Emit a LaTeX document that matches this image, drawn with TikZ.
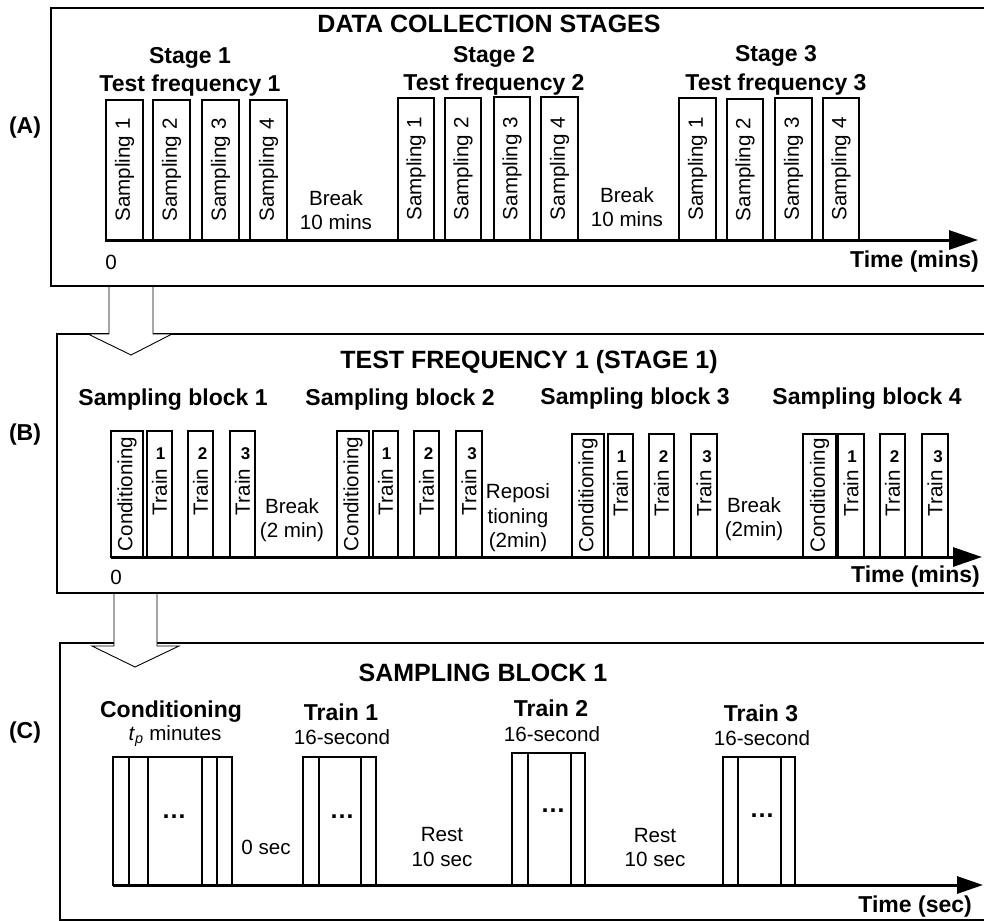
\documentclass[tikz,border=0pt]{standalone}
\usepackage{fontspec}
\setmainfont{Liberation Sans}
\usetikzlibrary{arrows.meta,calc}
\newcommand\fnorm{\fontsize{20.6}{24.5}\selectfont}
\newcommand\fbold{\fontsize{23}{27}\selectfont\bfseries}
\newcommand\ftitle{\fontsize{25}{30}\selectfont\bfseries}
\newcommand\fnum{\fontsize{17}{20}\selectfont\bfseries}
\newcommand\fdots{\fontsize{25}{28}\selectfont\bfseries}
\begin{document}
\begin{tikzpicture}[x=1pt,y=-1pt,
  frame/.style={draw, line width=2pt, inner sep=0pt, outer sep=0pt, anchor=north west},
  rbox/.style={draw, line width=2pt, rotate=90, inner sep=0pt, outer sep=0pt, font=\fnorm, fill=white},
  pbox/.style={draw, line width=2pt, inner sep=0pt, outer sep=0pt},
  inline/.style={line width=2pt},
  axis/.style={line width=3pt},
  blockarrow/.style={draw, fill=white, line width=0.9pt, line join=miter},
  txt/.style={font=\fnorm, align=center, inner sep=0pt},
  btxt/.style={font=\fbold, align=center, inner sep=0pt},
  ttl/.style={font=\ftitle, inner sep=0pt},
  num/.style={font=\fnum, inner sep=0pt},
  dotsx/.style={font=\fdots, inner sep=0pt}]
\useasboundingbox (0,0) rectangle (984,920);
\clip (0,0) rectangle (984,920);
\fill[white] (0,0) rectangle (984,920);

% frames
\node[frame, minimum width=940, minimum height=278] (fA) at (51,8) {};
\node[frame, minimum width=934, minimum height=259] (fB) at (57,334) {};
\node[frame, minimum width=931, minimum height=277] (fC) at (60,643) {};

% block arrows
\draw[blockarrow] (109,287) -- (109,334) -- (88,334) -- (131,355) -- (172,334) -- (153,334) -- (153,287);
\draw[blockarrow] (114,594) -- (114,646) -- (92,646) -- (135,667) -- (179,646) -- (157,646) -- (157,594);

% panel labels
\node[btxt] (labA) at (25,128) {(A)};
\node[btxt] (labB) at (25,435) {(B)};
\node[btxt] (labC) at (25,733) {(C)};

% ---------------- Panel A ----------------
\node[ttl] (titA) at (489,24) {DATA COLLECTION STAGES};
\node[btxt] (st1) at (190,58) {Stage 1};
\node[btxt] (tf1) at (190,86) {Test frequency 1};
\node[btxt] (st2) at (494,57) {Stage 2};
\node[btxt] (tf2) at (494,85) {Test frequency 2};
\node[btxt] (st3) at (776,56) {Stage 3};
\node[btxt] (tf3) at (776,85) {Test frequency 3};

\foreach \l/\r/\t/\n/\m in {106/143/100/1/s11,153/190/100/2/s12,202/239/100/3/s13,250/287/100/4/s14,
  398/434/98/1/s21,445/481/98/2/s22,494/530/97/3/s23,541/578/97/4/s24,
  679/716/98/1/s31,727/763/99/2/s32,775/812/98/3/s33,823/859/98/4/s34}
  \node[rbox, minimum width={240-\t}, minimum height={\r-\l}] (\m) at ({(\l+\r)/2},{(\t+240)/2}) {Sampling \n};

\node[txt] (brA1) at (336,210) {Break\\10 mins};
\node[txt] (brA2) at (627,207) {Break\\10 mins};
\coordinate (axA0) at (105,240);
\coordinate (axA1) at (978,240);
\draw[axis, -{Triangle[length=29pt,width=19pt]}] (axA0) -- (axA1);
\node[txt] (zeroA) at (111,262) {0};
\node[btxt, anchor=east] (timeA) at (979,262) {Time (mins)};

% ---------------- Panel B ----------------
\node[ttl] (titB) at (529,362) {TEST FREQUENCY 1 (STAGE 1)};
\node[btxt] (sb1) at (173,400) {Sampling block 1};
\node[btxt] (sb2) at (400,400) {Sampling block 2};
\node[btxt] (sb3) at (635,399) {Sampling block 3};
\node[btxt] (sb4) at (867,399) {Sampling block 4};

\foreach \l/\r/\t/\m in {111/143/431/c1,337/369/431/c2,572/604/434/c3,803/836/434/c4}
  \node[rbox, minimum width={557-\t}, minimum height={\r-\l}] (\m) at ({(\l+\r)/2},{(\t+557)/2}) {Conditioning};

\foreach \l/\r/\t/\n/\d/\m in {147/172/431/1/1/t11,188/213/431/2/2/t12,230/255/431/3/3/t13,
  373/398/431/1/1/t21,414/439/431/2/2/t22,456/482/431/3/3/t23,
  608/633/434/1/1/t31,649/674/434/2/2/t32,691/717/434/3/3/t33,
  838/864/434/1/1/t41,880/905/434/2/2/t42,922/948/434/3/3/t43}
{
  \node[rbox, minimum width={557-\t}, minimum height={\r-\l}] (\m) at ({(\l+\r)/2},{(\t+557)/2}) {\hspace*{4pt}Train};
  \node[num] (n\m) at ({(\l+\r)/2+\d},{\t+23}) {\n};
}

\node[txt] (brB1) at (292,520) {Break\\(2 min)};
\node[txt] (rep) at (518,518) {Reposi\\tioning\\(2min)};
\node[txt] (brB2) at (754,519) {Break\\(2min)};
\coordinate (axB0) at (111,557);
\coordinate (axB1) at (982,557);
\draw[axis, -{Triangle[length=29pt,width=19pt]}] (axB0) -- (axB1);
\node[txt] (zeroB) at (116,577) {0};
\node[btxt, anchor=east] (timeB) at (980,577) {Time (mins)};

% ---------------- Panel C ----------------
\node[ttl] (titC) at (483,673) {SAMPLING BLOCK 1};
\node[btxt] (condC) at (171,712) {Conditioning};
\node[txt] (tp) at (175,736) {\textit{t}\textsubscript{\textit{p}} minutes};
\node[btxt] (tr1) at (341,712) {Train 1};
\node[txt] (sec1) at (342,737) {16-second};
\node[btxt] (tr2) at (551,708) {Train 2};
\node[txt] (sec2) at (552,734) {16-second};
\node[btxt] (tr3) at (761,713) {Train 3};
\node[txt] (sec3) at (762,738) {16-second};

\node[pbox, minimum width=119, minimum height=128] (cb) at (172.5,821) {};
\foreach \o in {16,35,89,104}
  \draw[inline] ([xshift=\o pt]cb.north west) -- ([xshift=\o pt]cb.south west);
\node[pbox, minimum width=73, minimum height=128] (tb1) at (339.5,821) {};
\foreach \o in {16,58}
  \draw[inline] ([xshift=\o pt]tb1.north west) -- ([xshift=\o pt]tb1.south west);
\node[pbox, minimum width=73, minimum height=132] (tb2) at (548.5,819) {};
\foreach \o in {16,59}
  \draw[inline] ([xshift=\o pt]tb2.north west) -- ([xshift=\o pt]tb2.south west);
\node[pbox, minimum width=72, minimum height=128] (tb3) at (759,821) {};
\foreach \o in {15,58}
  \draw[inline] ([xshift=\o pt]tb3.north west) -- ([xshift=\o pt]tb3.south west);

\node[dotsx] (d0) at (174,817) {…};
\node[dotsx] (d1) at (342,817) {…};
\node[dotsx] (d2) at (553,811) {…};
\node[dotsx] (d3) at (762,816) {…};

\node[txt] (zs) at (266,847) {0 sec};
\node[txt] (rest1) at (442,847) {Rest\\10 sec};
\node[txt] (rest2) at (655,847.5) {Rest\\10 sec};
\coordinate (axC0) at (113,885);
\coordinate (axC1) at (983,885);
\draw[axis, -{Triangle[length=26pt,width=17pt]}] (axC0) -- (axC1);
\node[btxt, anchor=east] (timeC) at (972,907) {Time (sec)};
\end{tikzpicture}
\end{document}
